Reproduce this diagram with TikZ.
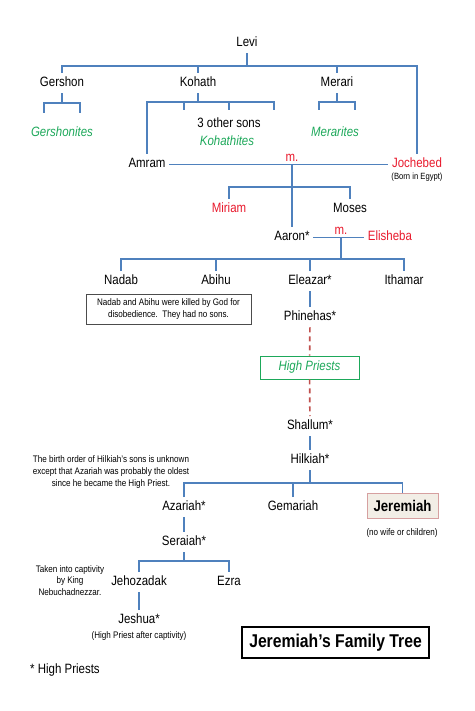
\documentclass[tikz,border=0pt]{standalone}
\usepackage{fontspec}
\setmainfont{Liberation Sans}[FakeStretch=0.85]
\usepackage{tikz}
\usetikzlibrary{positioning,calc,shadows}

\definecolor{treeblue}{RGB}{79,129,189}
\definecolor{famred}{RGB}{232,25,44}
\definecolor{tribegreen}{RGB}{29,168,90}
\definecolor{dashred}{RGB}{192,80,77}
\definecolor{jerfill}{RGB}{242,238,230}
\definecolor{jerdraw}{RGB}{214,160,160}

\tikzset{
  every node/.append style={font=\fontsize{13.5}{15}\selectfont},
  person/.style={text height=10pt, text depth=3pt, inner sep=3.5pt, yshift=-1.2pt},
  wife/.style={person, text=famred},
  tribe/.style={person, text=tribegreen, font=\fontsize{13.5}{15}\selectfont\itshape},
  note/.style={align=center, inner sep=0pt, font=\fontsize{9.5}{12}\selectfont},
  tree/.style={draw=treeblue, line width=1.3pt},
  lineage/.style={draw=dashred, line width=1.7pt, dash pattern=on 5pt off 4pt}
}

\begin{document}
\begin{tikzpicture}[x=1pt, y=-1pt]
\useasboundingbox (0,0) rectangle (474,711);

% --- Levi and his sons ---
\node[person] (levi) at (247,42) {Levi};
\node[person] (gershon) at (62,82) {Gershon};
\node[person] (kohath) at (198,82) {Kohath};
\node[person] (merari) at (337,82) {Merari};
\coordinate (levibus) at (247,66);
\draw[tree] (levi) -- (levibus);
\draw[tree] (gershon.north) |- (levibus);
\draw[tree] (kohath.north) -- (kohath.north |- levibus);
\draw[tree] (merari.north) -- (merari.north |- levibus);

% --- Gershon's line ---
\node[tribe] (gershonites) at (62,132) {Gershonites};
\coordinate (gerbus) at (62,103);
\coordinate (ger1) at (44,113);
\coordinate (ger2) at (80,113);
\draw[tree] (gershon) -- (gerbus);
\draw[tree] (ger1) |- (gerbus) -| (ger2);

% --- Kohath's line ---
\node[person, inner sep=1pt] (othersons) at (229,123) {3 other sons};
\node[tribe, inner sep=1pt] (kohathites) at (227,141) {Kohathites};
\node[person] (amram) at (147,163) {Amram};
\coordinate (kohbus) at (198,102);
\coordinate (koh1) at (184,110);
\coordinate (koh2) at (229,110);
\coordinate (koh3) at (274,110);
\draw[tree] (kohath) -- (kohbus);
\draw[tree] (amram.north) |- (kohbus) -| (koh3);
\draw[tree] (koh1) -- (koh1 |- kohbus);
\draw[tree] (koh2) -- (koh2 |- kohbus);

% --- Merari's line ---
\node[tribe] (merarites) at (335,132) {Merarites};
\coordinate (merbus) at (337,102);
\coordinate (mer1) at (319,110);
\coordinate (mer2) at (355,110);
\draw[tree] (merari) -- (merbus);
\draw[tree] (mer1) |- (merbus) -| (mer2);

% --- Amram m. Jochebed ---
\node[wife] (jochebed) at (417,163) {Jochebed};
\node[note, font=\fontsize{9}{11}\selectfont] (egypt) at (417,177.5) {(Born in Egypt)};
\draw[tree] (levibus) -| (jochebed.north);
\draw[tree] (amram.east) -- (jochebed.west);
\node[text=famred, inner sep=0pt] (m1) at (292,158) {m.};
\coordinate (amrammar) at (292,164);
\coordinate (amrambus) at (292,187);

\node[wife] (miriam) at (229,208) {Miriam};
\node[person] (moses) at (350,208) {Moses};
\node[person] (aaron) at (292,236) {Aaron*};
\draw[tree] (amrammar) -- (aaron.north);
\draw[tree] (miriam.north) |- (amrambus) -| (moses.north);

% --- Aaron m. Elisheba ---
\node[wife] (elisheba) at (390,236) {Elisheba};
\draw[tree] (aaron.east) -- (elisheba.west);
\node[text=famred, inner sep=0pt] (m2) at (341,231) {m.};
\coordinate (aaronmar) at (341,237);
\coordinate (aaronbus) at (341,259);
\draw[tree] (aaronmar) -- (aaronbus);

\node[person] (nadab) at (121,280) {Nadab};
\node[person] (abihu) at (216,280) {Abihu};
\node[person] (eleazar) at (310,280) {Eleazar*};
\node[person] (ithamar) at (404,280) {Ithamar};
\draw[tree] (nadab.north) |- (aaronbus) -| (ithamar.north);
\draw[tree] (abihu.north) -- (abihu.north |- aaronbus);
\draw[tree] (eleazar.north) -- (eleazar.north |- aaronbus);

\node[draw=black!70, line width=0.8pt, minimum width=165pt, minimum height=30pt,
      note, font=\fontsize{9.5}{12.5}\selectfont] (nadabnote) at (168.5,309)
  {Nadab and Abihu were killed by God for\\disobedience.\ \ They had no sons.};

% --- High priest line ---
\node[person] (phinehas) at (310,316) {Phinehas*};
\draw[tree] (eleazar) -- (phinehas);
\node[draw=tribegreen, line width=0.9pt, minimum width=99pt, minimum height=23pt,
      text=tribegreen, font=\fontsize{13.5}{15}\selectfont\itshape, inner sep=0pt]
  (highpriests) at (309.5,367.5) {High Priests};
\node[person] (shallum) at (310,425) {Shallum*};
\node[person] (hilkiah) at (310,459) {Hilkiah*};
\draw[lineage] (phinehas) -- (highpriests);
\draw[lineage] (highpriests) -- (shallum);
\draw[tree] (shallum) -- (hilkiah);

% --- Hilkiah's sons ---
\node[note, font=\fontsize{9.5}{12}\selectfont] (ordernote) at (111,472)
  {The birth order of Hilkiah’s sons is unknown\\except that Azariah was probably the oldest\\since he became the High Priest.};
\node[person] (azariah) at (184,506) {Azariah*};
\node[person] (gemariah) at (293,506) {Gemariah};
\node[draw=jerdraw, fill=jerfill, line width=0.9pt, minimum width=71pt, minimum height=25pt,
      inner sep=0pt, font=\fontsize{15.5}{17}\selectfont\bfseries,
      drop shadow={opacity=0.2, shadow xshift=1pt, shadow yshift=-1pt}]
  (jeremiah) at (402.5,505.5) {Jeremiah};
\node[note] (nowife) at (402,533) {(no wife or children)};
\coordinate (hilbus) at (310,483);
\draw[tree] (hilkiah) -- (hilbus);
\draw[tree] (azariah.north) |- (hilbus) -| (jeremiah.north);
\draw[tree] (gemariah.north) -- (gemariah.north |- hilbus);

% --- Seraiah and the captivity ---
\node[person] (seraiah) at (184,541) {Seraiah*};
\draw[tree] (azariah) -- (seraiah);
\node[person] (jehozadak) at (139,581) {Jehozadak};
\node[person] (ezra) at (229,581) {Ezra};
\coordinate (serbus) at (184,561);
\draw[tree] (seraiah) -- (serbus);
\draw[tree] (jehozadak.north) |- (serbus) -| (ezra.north);
\node[note, font=\fontsize{9.5}{11.5}\selectfont] (captnote) at (70,580.5)
  {Taken into captivity\\by King\\Nebuchadnezzar.};
\node[person] (jeshua) at (139,619) {Jeshua*};
\draw[tree] (jehozadak) -- (jeshua);
\node[note] (afternote) at (139,636) {(High Priest after captivity)};

% --- Title and key ---
\node[draw=black, line width=1.5pt, minimum width=187pt, minimum height=31pt, inner sep=0pt,
      font=\fontsize{18.5}{20}\selectfont\bfseries] (title) at (335.5,642.5) {Jeremiah’s Family Tree};
\node[person, anchor=west, inner sep=0pt] (key) at (30,669) {* High Priests};

\end{tikzpicture}
\end{document}
